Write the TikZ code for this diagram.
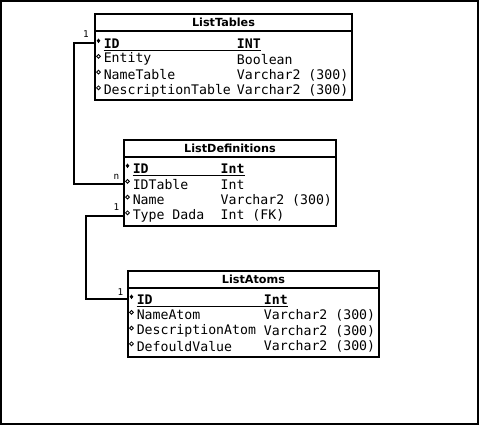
\documentclass[tikz,border=0pt]{standalone}
\usepackage{fontspec}
\setmainfont{DejaVu Sans}
\setmonofont{DejaVu Sans Mono}
\usetikzlibrary{positioning,calc}

\tikzset{
  tbl/.style={draw,line width=1.5pt,inner sep=0pt,anchor=north west,minimum height=64.5pt},
  hdr/.style={font=\bfseries\fontsize{8.4}{10}\selectfont,inner sep=0pt},
  fld/.style={font=\ttfamily\fontsize{9.9}{11}\selectfont,anchor=west,inner sep=0pt},
  keyfld/.style={fld,font=\ttfamily\bfseries\fontsize{9.9}{11}\selectfont},
  card/.style={font=\ttfamily\fontsize{7}{8}\selectfont,inner sep=0pt},
  link/.style={line width=1.5pt},
}
% marks in front of the fields
\newcommand{\pkmark}[1]{\fill (#1) ++(0,5) -- ++(1.8,-2.3) -- ++(-1.8,-2.3) -- ++(-1.8,2.3) -- cycle;}
\newcommand{\fdmark}[1]{\draw[line width=0.6pt] (#1) ++(0,2.8) circle (1.9);}

\begin{document}
\begin{tikzpicture}[x=0.75pt,y=0.75pt]
\useasboundingbox (0,0) rectangle (479,425);
\draw[line width=1.5pt] (1,1) rectangle (478,424);

% ListTables
\node[tbl,minimum width=192.75pt] (tables) at (94,412) {};
\draw[line width=1.5pt] ($(tables.north west)+(0,-18)$) -- ($(tables.north east)+(0,-18)$);
\node[hdr] (tablesh) at ($(tables.north)+(0,-9)$) {ListTables};
\node[keyfld] (t1) at ($(tables.north west)+(9.5,-30.5)$) {ID};
\node[keyfld] (t1b) at ($(tables.north west)+(142.7,-30.5)$) {INT};
\node[fld] (t2) at ($(t1.west)+(0,-15.7)$) {Entity};
\node[fld] (t2b) at ($(t1b.west)+(0,-15.7)$) {Boolean};
\node[fld] (t3) at ($(t1.west)+(0,-31.4)$) {NameTable};
\node[fld] (t3b) at ($(t1b.west)+(0,-31.4)$) {Varchar2 (300)};
\node[fld] (t4) at ($(t1.west)+(0,-47.1)$) {DescriptionTable};
\node[fld] (t4b) at ($(t1b.west)+(0,-47.1)$) {Varchar2 (300)};
\draw[line width=1pt] ($(t1.west)+(0,-6.8)$) -- ($(t1b.east)+(0,-6.8)$);

% ListDefinitions
\node[tbl,minimum width=159pt] (defs) at (123,286) {};
\draw[line width=1.5pt] ($(defs.north west)+(0,-18)$) -- ($(defs.north east)+(0,-18)$);
\node[hdr] (defsh) at ($(defs.north)+(0,-9)$) {ListDefinitions};
\node[keyfld] (d1) at ($(defs.north west)+(9.5,-29.5)$) {ID};
\node[keyfld] (d1b) at ($(defs.north west)+(97.4,-29.5)$) {Int};
\node[fld] (d2) at ($(d1.west)+(0,-15.7)$) {IDTable};
\node[fld] (d2b) at ($(d1b.west)+(0,-15.7)$) {Int};
\node[fld] (d3) at ($(d1.west)+(0,-31.4)$) {Name};
\node[fld] (d3b) at ($(d1b.west)+(0,-31.4)$) {Varchar2 (300)};
\node[fld] (d4) at ($(d1.west)+(0,-47.1)$) {Type Dada};
\node[fld] (d4b) at ($(d1b.west)+(0,-47.1)$) {Int (FK)};
\draw[line width=1pt] ($(d1.west)+(0,-6.8)$) -- ($(d1b.east)+(0,-6.8)$);

% ListAtoms
\node[tbl,minimum width=188.25pt] (atoms) at (127,155) {};
\draw[line width=1.5pt] ($(atoms.north west)+(0,-18)$) -- ($(atoms.north east)+(0,-18)$);
\node[hdr] (atomsh) at ($(atoms.north)+(0,-9)$) {ListAtoms};
\node[keyfld] (a1) at ($(atoms.north west)+(9.5,-29.5)$) {ID};
\node[keyfld] (a1b) at ($(atoms.north west)+(136.6,-29.5)$) {Int};
\node[fld] (a2) at ($(a1.west)+(0,-15.7)$) {NameAtom};
\node[fld] (a2b) at ($(a1b.west)+(0,-15.7)$) {Varchar2 (300)};
\node[fld] (a3) at ($(a1.west)+(0,-31.4)$) {DescriptionAtom};
\node[fld] (a3b) at ($(a1b.west)+(0,-31.4)$) {Varchar2 (300)};
\node[fld] (a4) at ($(a1.west)+(0,-47.1)$) {DefouldValue};
\node[fld] (a4b) at ($(a1b.west)+(0,-47.1)$) {Varchar2 (300)};
\draw[line width=1pt] ($(a1.west)+(0,-6.8)$) -- ($(a1b.east)+(0,-6.8)$);

% marks
\foreach \n in {t1,d1,a1}{\pkmark{$(\n.west)+(-5,0)$}}
\foreach \n in {t2,t3,t4,d2,d3,d4,a2,a3,a4}{\fdmark{$(\n.west)+(-5,0)$}}

% links
\coordinate (bend1) at (74,0);
\coordinate (bend2) at (86,0);
\draw[link] (tables.west |- t1) -- (bend1 |- t1) -- (bend1 |- d2) -- (defs.west |- d2);
\draw[link] (defs.west |- d4) -- (bend2 |- d4) -- (bend2 |- a1) -- (atoms.west |- a1);
\node[card] (c1) at ($(tables.west |- t1)+(-8,9)$) {1};
\node[card] (c2) at ($(defs.west |- d2)+(-6.5,7)$) {n};
\node[card] (c3) at ($(defs.west |- d4)+(-6.5,8)$) {1};
\node[card] (c4) at ($(atoms.west |- a1)+(-6.5,7.5)$) {1};
\end{tikzpicture}
\end{document}
